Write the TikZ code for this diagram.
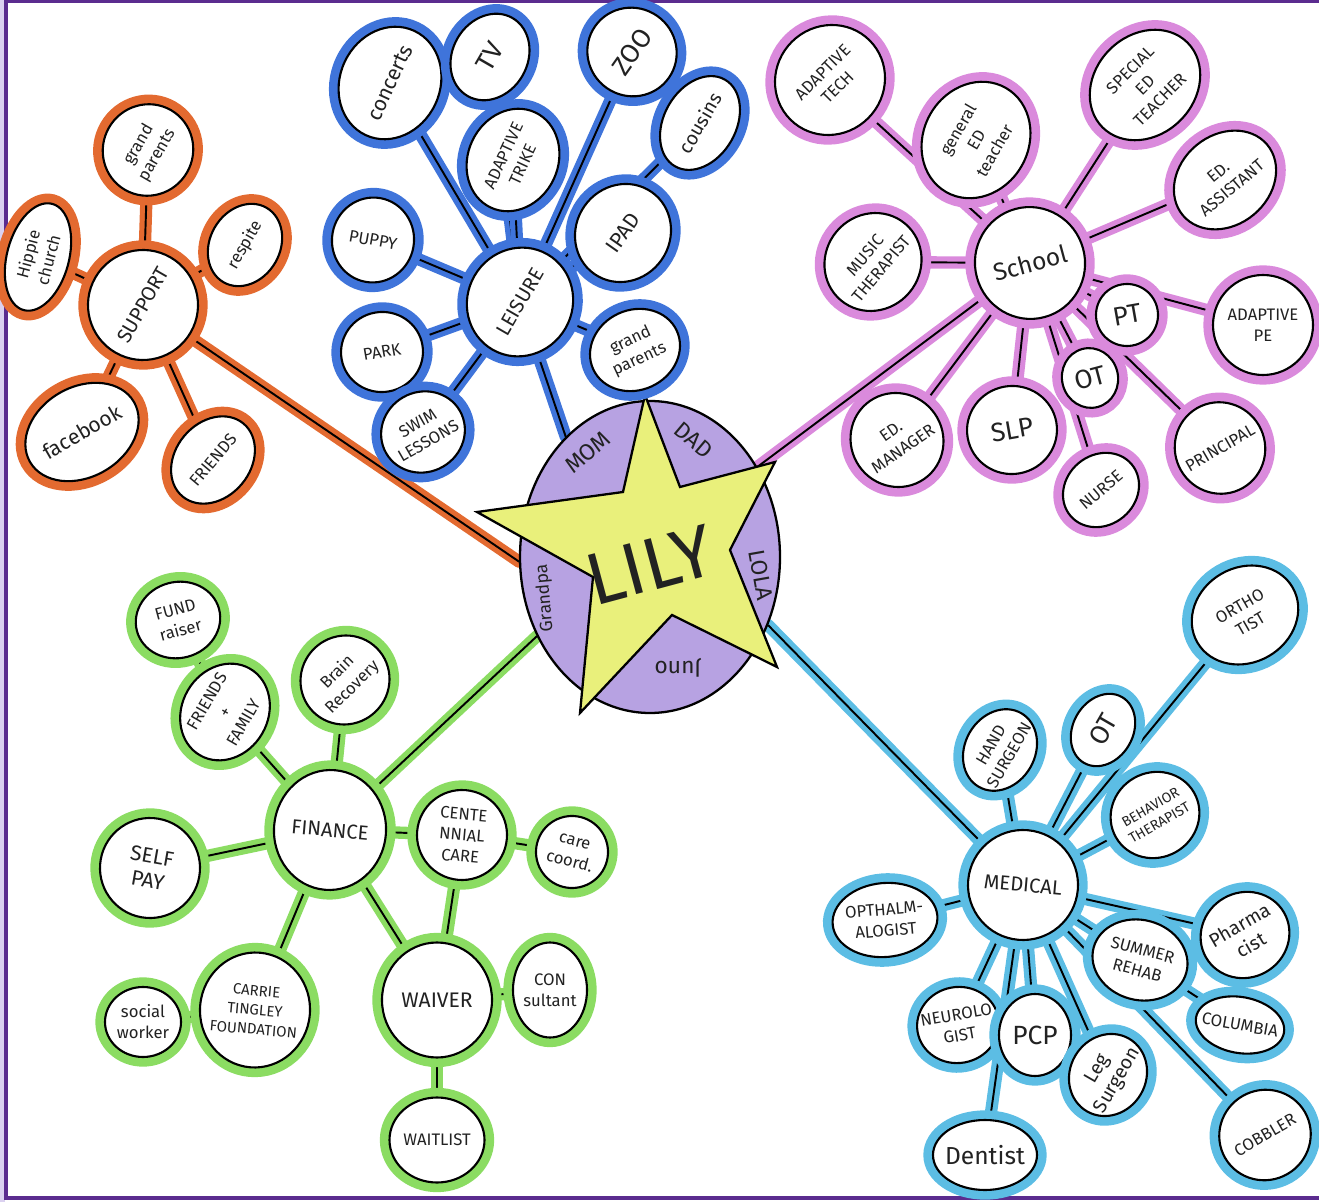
\documentclass[tikz,border=0pt]{standalone}
\usepackage{fontspec}
\setmainfont{Fira Sans}
\usetikzlibrary{shapes.geometric,backgrounds}
\definecolor{supcol}{HTML}{E36A30}
\definecolor{leicol}{HTML}{3F74DA}
\definecolor{schcol}{HTML}{DA8ADC}
\definecolor{fincol}{HTML}{8BDC62}
\definecolor{medcol}{HTML}{5CBDE4}
\definecolor{framecol}{HTML}{5B2C8F}
\definecolor{lilacfill}{HTML}{B7A2E2}
\definecolor{starfill}{HTML}{E9F07B}
\definecolor{ink}{HTML}{222222}
\tikzset{%
  bub/.style  = {ellipse, draw=black, line width=1.2pt, fill=white,%
                 inner sep=-4pt, align=center, text=ink,%
                 font=\fontsize{9.5}{12}\selectfont,%
                 preaction={draw=#1, line width=11pt}},%
  hub/.style  = {bub=#1, font=\fontsize{11.5}{13}\selectfont},%
  big/.style  = {font=\fontsize{15}{16}\selectfont},%
  sz/.style 2 args = {minimum width=#1*0.02cm, minimum height=#2*0.02cm},%
  link/.style = {draw=#1, line width=7pt, line cap=round,%
                 postaction={draw=black, line width=1.1pt}},%
  rim/.style  = {text=ink, font=\fontsize{13}{14}\selectfont}%
}
\begin{document}
\begin{tikzpicture}[x=0.02cm, y=-0.02cm]
  \useasboundingbox (0,0) rectangle (1319,1202);
  \fill[lilacfill!50] (0,0) rectangle (5,1202);
  \draw[framecol, line width=1.8pt] (1319,1) -- (6,1) -- (6,1198) -- (1319,1198);

  % centre
  \node[ellipse, draw=black, line width=1.3pt, fill=lilacfill,%
        minimum width=260*0.02cm, minimum height=312*0.02cm] (lily) at (650,557) {};
  \node[rim, rotate=40]  (mom)  at (588,452) {MOM};
  \node[rim, rotate=-40] (dad)  at (694,440) {DAD};
  \node[rim, rotate=-80] (lola) at (761,575) {LOLA};
  \node[rim, rotate=180] (juno) at (678,668) {Juno};
  \node[rim, rotate=95, font=\fontsize{10}{11}\selectfont] (gpa) at (545,598) {Grandpa};
  \filldraw[fill=starfill, draw=black, line width=1.3pt]
    (645,395) -- (680,487) -- (775,462) -- (730,550) -- (777,667) --
    (672,615) -- (580,713) -- (593,577) -- (477,512) -- (623,492) -- cycle;
  \node[text=ink, rotate=15, font=\fontsize{42}{44}\selectfont] (name) at (650,565) {LILY};

  % support
  \node[hub=supcol, sz={110}{110}, rotate=60] (support) at (143,305) {SUPPORT};
  \node[bub=supcol, sz={92}{90}, rotate=60]   (sgrand)  at (148,150) {grand\\parents};
  \node[bub=supcol, sz={110}{62}, rotate=75]  (hippie)  at (38,257)  {Hippie\\church};
  \node[bub=supcol, sz={86}{70}, rotate=60]   (respite) at (245,245) {respite};
  \node[bub=supcol, sz={120}{90}, rotate=30, font=\fontsize{12}{13}\selectfont] (facebook) at (82,432) {facebook};
  \node[bub=supcol, sz={95}{75}, rotate=50]   (sfriends) at (213,460) {FRIENDS};

  % leisure
  \node[hub=leicol, sz={110}{105}, rotate=60] (leisure)  at (520,302) {LEISURE};
  \node[bub=leicol, sz={115}{100}, rotate=65, font=\fontsize{12}{13}\selectfont] (concerts) at (390,83) {concerts};
  \node[bub=leicol, big, sz={90}{75}, rotate=60]  (tv)  at (490,57) {TV};
  \node[bub=leicol, big, sz={88}{90}, rotate=55]  (zoo) at (632,52) {ZOO};
  \node[bub=leicol, sz={100}{72}, rotate=60, font=\fontsize{11}{12}\selectfont] (cousins) at (700,123) {cousins};
  \node[bub=leicol, sz={105}{90}, rotate=65]  (trike)  at (513,160) {ADAPTIVE\\TRIKE};
  \node[bub=leicol, sz={82}{85}, rotate=-10]  (puppy)  at (373,240) {PUPPY};
  \node[bub=leicol, sz={100}{94}, rotate=55, font=\fontsize{12}{13}\selectfont] (ipad) at (623,233) {IPAD};
  \node[bub=leicol, sz={82}{80}, rotate=10]   (park)   at (382,352) {PARK};
  \node[bub=leicol, sz={92}{80}, rotate=25]   (lgrand) at (635,350) {grand\\parents};
  \node[bub=leicol, sz={85}{80}, rotate=30]   (swim)   at (423,432) {SWIM\\LESSONS};

  % school
  \node[hub=schcol, sz={110}{112}, rotate=15, font=\fontsize{14}{15}\selectfont] (school) at (1030,263) {School};
  \node[bub=schcol, sz={112}{108}, rotate=45] (atech)   at (830,80)   {ADAPTIVE\\TECH};
  \node[bub=schcol, sz={120}{105}, rotate=60] (gened)   at (976,140)  {general\\ED\\teacher};
  \node[bub=schcol, sz={120}{100}, rotate=45] (sped)    at (1145,85)  {SPECIAL\\ED\\TEACHER};
  \node[bub=schcol, sz={110}{90}, rotate=40]  (edasst)  at (1225,180) {ED.\\ASSISTANT};
  \node[bub=schcol, sz={100}{100}]            (ape)     at (1263,325) {ADAPTIVE\\PE};
  \node[bub=schcol, sz={100}{95}, rotate=50]  (music)   at (873,262)  {MUSIC\\THERAPIST};
  \node[bub=schcol, big, sz={62}{62}, rotate=10] (pt)   at (1127,315) {PT};
  \node[bub=schcol, big, sz={56}{60}, rotate=15] (sot)  at (1090,378) {OT};
  \node[bub=schcol, sz={92}{95}, rotate=35]   (edman)   at (897,440)  {ED.\\MANAGER};
  \node[bub=schcol, big, sz={90}{88}, rotate=10] (slp)  at (1012,430) {SLP};
  \node[bub=schcol, sz={80}{70}, rotate=40]   (nurse)   at (1101,490) {NURSE};
  \node[bub=schcol, sz={90}{92}, rotate=30]   (principal) at (1220,448) {PRINCIPAL};

  % finance
  \node[hub=fincol, sz={112}{120}, rotate=-5] (finance) at (330,830) {FINANCE};
  \node[bub=fincol, sz={85}{76}, rotate=15]   (fund)    at (178,620) {FUND\\raiser};
  \node[bub=fincol, sz={100}{86}, rotate=60]  (famfriends) at (225,712) {FRIENDS\\+\\FAMILY};
  \node[bub=fincol, sz={90}{88}, rotate=45]   (brain)   at (345,680) {Brain\\Recovery};
  \node[bub=fincol, sz={90}{90}, rotate=-5]   (centen)  at (462,835) {CENTE\\NNIAL\\CARE};
  \node[bub=fincol, sz={72}{72}, rotate=-15]  (coord)   at (572,852) {care\\coord.};
  \node[bub=fincol, sz={100}{100}, rotate=-10, font=\fontsize{12}{14}\selectfont] (selfpay) at (150,868) {SELF\\PAY};
  \node[bub=fincol, sz={110}{115}, rotate=-5, font=\fontsize{8.5}{11}\selectfont] (carrie) at (255,1010) {CARRIE\\TINGLEY\\FOUNDATION};
  \node[bub=fincol, sz={76}{70}]              (social)  at (143,1022) {social\\worker};
  \node[bub=fincol, sz={110}{115}, font=\fontsize{12}{13}\selectfont] (waiver) at (437,1000) {WAIVER};
  \node[bub=fincol, sz={74}{95}]              (consult) at (550,990)  {CON\\sultant};
  \node[bub=fincol, sz={95}{85}]              (waitlist) at (437,1140) {WAITLIST};

  % medical
  \node[hub=medcol, sz={110}{110}, rotate=-5] (medical) at (1023,885) {MEDICAL};
  \node[bub=medcol, sz={110}{95}, rotate=30]  (ortho)   at (1245,615) {ORTHO\\TIST};
  \node[bub=medcol, sz={85}{70}, rotate=60]   (hand)    at (1000,750) {HAND\\SURGEON};
  \node[bub=medcol, big, sz={76}{60}, rotate=60] (mot)  at (1103,730) {OT};
  \node[bub=medcol, sz={90}{85}, rotate=30, font=\fontsize{8}{10}\selectfont] (behav) at (1155,815) {BEHAVIOR\\THERAPIST};
  \node[bub=medcol, sz={105}{74}, rotate=5]   (optha)   at (885,920)  {OPTHALM-\\ALOGIST};
  \node[bub=medcol, sz={90}{85}, rotate=30, font=\fontsize{11}{13}\selectfont] (pharma) at (1245,935) {Pharma\\cist};
  \node[bub=medcol, sz={96}{80}, rotate=-15]  (rehab)   at (1140,960) {SUMMER\\REHAB};
  \node[bub=medcol, sz={82}{56}, rotate=-10]  (columbia) at (1240,1025) {COLUMBIA};
  \node[bub=medcol, sz={82}{76}, rotate=10]   (neuro)   at (958,1025) {NEUROLO\\GIST};
  \node[bub=medcol, big, sz={72}{82}]         (pcp)     at (1035,1035) {PCP};
  \node[bub=medcol, sz={84}{76}, rotate=60, font=\fontsize{11}{13}\selectfont] (leg) at (1108,1075) {Leg\\Surgeon};
  \node[bub=medcol, sz={92}{90}, rotate=30]   (cobbler) at (1265,1135) {COBBLER};
  \node[bub=medcol, sz={104}{70}, font=\fontsize{14}{15}\selectfont] (dentist) at (985,1155) {Dentist};

  \begin{scope}[on background layer]
    \draw[link=supcol] (support) -- (lily.182);
    \foreach \t in {sgrand,hippie,respite,facebook,sfriends}
      \draw[link=supcol] (support) -- (\t);
    \draw[link=leicol] (leisure) -- (lily.125);
    \foreach \t in {concerts,tv,zoo,cousins,trike,puppy,ipad,park,lgrand,swim}
      \draw[link=leicol] (leisure) -- (\t);
    \draw[link=schcol] (school) -- (lily.40);
    \foreach \t in {atech,gened,sped,edasst,ape,music,pt,sot,edman,slp,nurse,principal}
      \draw[link=schcol] (school) -- (\t);
    \draw[link=fincol] (finance) -- (lily.215);
    \foreach \t in {famfriends,brain,centen,selfpay,carrie,waiver}
      \draw[link=fincol] (finance) -- (\t);
    \draw[link=fincol] (famfriends) -- (fund);
    \draw[link=fincol] (centen) -- (coord);
    \draw[link=fincol] (centen) -- (waiver);
    \draw[link=fincol] (carrie) -- (social);
    \draw[link=fincol] (waiver) -- (consult);
    \draw[link=fincol] (waiver) -- (waitlist);
    \draw[link=medcol] (medical) -- (lily.-30);
    \foreach \t in {ortho,hand,mot,behav,optha,pharma,rehab,neuro,pcp,leg,cobbler,dentist}
      \draw[link=medcol] (medical) -- (\t);
    \draw[link=medcol] (rehab) -- (columbia);
  \end{scope}
\end{tikzpicture}
\end{document}
